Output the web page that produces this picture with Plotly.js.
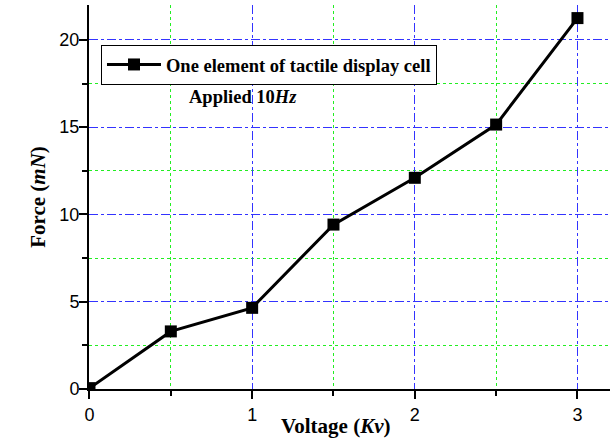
<!DOCTYPE html>
<html>
<head>
<meta charset="utf-8">
<script src="https://cdn.plot.ly/plotly-3.0.1.min.js"></script>
<style>html,body{margin:0;padding:0;background:#fff;}#chart{width:614px;height:442px;}</style>
</head>
<body>
<div id="chart"></div>
<script>
const voltage = [0, 0.5, 1, 1.5, 2, 2.5, 3];
const force = [0.05, 3.3, 4.65, 9.42, 12.1, 15.15, 21.25];
const seriesName = "One element of tactile display cell";
const noteText = "Applied 10<i>Hz</i>";
const xTitle = "Voltage (<i>Kv</i>)";
const yTitle = "Force (<i>mN</i>)";

const serif = "Liberation Serif, Times New Roman, serif";
const sans = "Liberation Sans, Arial, sans-serif";

const trace = {
  x: voltage, y: force, name: seriesName, type: "scatter", mode: "lines+markers",
  line: {color: "#000", width: 3},
  marker: {symbol: "square", size: 12, color: "#000"}
};

const axisCommon = {
  showline: true, linecolor: "#000", linewidth: 2,
  ticks: "outside", ticklen: 8, tickwidth: 2, tickcolor: "#000",
  showgrid: true, gridcolor: "#3333ff", griddash: "dashdot", gridwidth: 1,
  zeroline: false, mirror: false,
  tickfont: {family: sans, size: 18, color: "#000"}
};

const layout = {
  width: 614, height: 442,
  margin: {l: 89, r: 4, t: 5, b: 53},
  paper_bgcolor: "#fff", plot_bgcolor: "#fff",
  showlegend: true,
  legend: {
    x: 0.023, y: 0.896, xanchor: "left", yanchor: "top",
    bordercolor: "#000", borderwidth: 1, bgcolor: "#fff", itemwidth: 54,
    font: {family: serif, size: 18.5, color: "#000", weight: "bold"}
  },
  xaxis: Object.assign({}, axisCommon, {
    range: [-0.003, 3.2], dtick: 1, tick0: 0,
    minor: {dtick: 0.5, ticks: "outside", ticklen: 5, tickcolor: "#000", tickwidth: 2,
            showgrid: true, gridcolor: "#22ee22", griddash: "dot", gridwidth: 1}
  }),
  yaxis: Object.assign({}, axisCommon, {
    range: [0, 22], dtick: 5, tick0: 0, ticklabelstandoff: -4,
    minor: {dtick: 2.5, ticks: "outside", ticklen: 5, tickcolor: "#000", tickwidth: 2,
            showgrid: true, gridcolor: "#22ee22", griddash: "dot", gridwidth: 1},
    title: {text: "<b>" + yTitle + "</b>", font: {family: serif, size: 21, color: "#000"}, standoff: 8}
  }),
  annotations: [{
    text: "<b>" + noteText + "</b>", xref: "paper", yref: "paper",
    x: 0.296, y: 0.76, xanchor: "center", yanchor: "middle", showarrow: false,
    font: {family: serif, size: 18.5, color: "#000"}
  }, {
    text: "<b>" + xTitle + "</b>", xref: "paper", yref: "paper",
    x: 0.474, y: -0.0964, xanchor: "center", yanchor: "middle", showarrow: false,
    font: {family: serif, size: 21, color: "#000"}
  }]
};

Plotly.newPlot("chart", [trace], layout, {displayModeBar: false, staticPlot: true});
</script>
</body>
</html>
